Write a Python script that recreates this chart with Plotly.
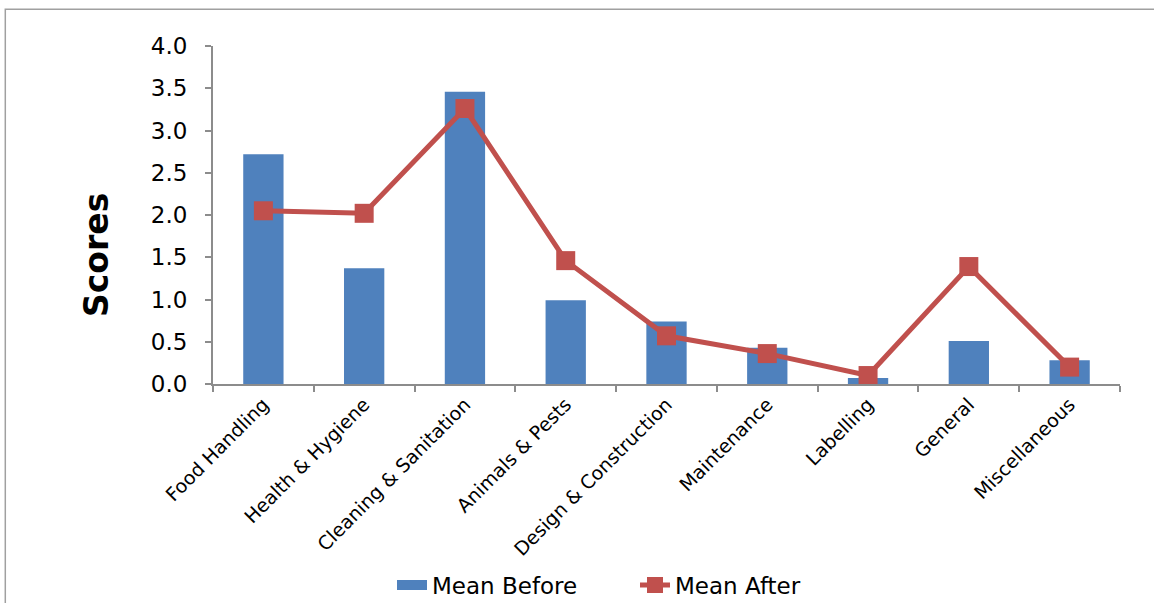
import plotly.graph_objects as go

categories = ["Food Handling", "Health & Hygiene", "Cleaning & Sanitation",
              "Animals & Pests", "Design & Construction", "Maintenance",
              "Labelling", "General", "Miscellaneous"]
mean_before = [2.72, 1.37, 3.46, 0.99, 0.74, 0.43, 0.07, 0.51, 0.28]
mean_after = [2.05, 2.02, 3.26, 1.46, 0.57, 0.36, 0.10, 1.39, 0.20]
y_ticks = [0.0, 0.5, 1.0, 1.5, 2.0, 2.5, 3.0, 3.5, 4.0]

FONT = "DejaVu Sans"
AXIS_GRAY = "#8c8c8c"
BLUE = "#4F81BD"
RED = "#C0504D"

fig = go.Figure()
fig.add_trace(go.Bar(
    x=categories, y=mean_before, name="Mean Before",
    marker=dict(color=BLUE, line=dict(width=0)),
    legendgroup="before", showlegend=False,
))
# wide swatch for the bar series in the legend
fig.add_trace(go.Scatter(
    x=[None], y=[None], name="Mean Before", mode="lines",
    line=dict(color=BLUE, width=15), legendgroup="before",
))
fig.add_trace(go.Scatter(
    x=categories, y=mean_after, name="Mean After",
    mode="lines+markers",
    line=dict(color=RED, width=5),
    marker=dict(symbol="square", size=19, color=RED),
))

fig.update_layout(
    width=1154, height=603,
    margin=dict(l=213, r=34, t=46, b=219, autoexpand=False),
    paper_bgcolor="white", plot_bgcolor="white",
    bargap=0.6,
    font=dict(family=FONT, color="black"),
    showlegend=True,
    legend=dict(orientation="h",
                xref="container", x=392 / 1154, xanchor="left",
                yref="container", y=1 - 585 / 603, yanchor="middle",
                font=dict(size=23, family=FONT), itemwidth=30,
                entrywidth=198, entrywidthmode="pixels",
                traceorder="normal"),
    shapes=[dict(type="rect", xref="paper", yref="paper",
                 x0=-0.229, x1=1.05, y0=-1.0, y1=1.109,
                 line=dict(color="#a0a0a0", width=1.5))],
    annotations=[dict(text="<b>Scores</b>", xref="paper", yref="paper",
                      x=(97 - 213) / 907, y=(384 - 255) / 338,
                      xanchor="center", yanchor="middle", textangle=-90,
                      showarrow=False, font=dict(size=33, family=FONT))],
)

fig.update_xaxes(
    type="category", range=[-0.5, 8.5], tickangle=-45, tickson="boundaries",
    ticks="outside", ticklen=6, tickcolor=AXIS_GRAY, tickwidth=1.5,
    showline=True, linecolor=AXIS_GRAY, linewidth=2,
    tickfont=dict(size=19, family=FONT), showgrid=False,
)
fig.update_yaxes(
    range=[0, 4.0], tickvals=y_ticks,
    ticktext=[f"{v:.1f}" for v in y_ticks],
    ticks="outside", ticklen=6, tickcolor=AXIS_GRAY, tickwidth=1.5,
    showline=True, linecolor=AXIS_GRAY, linewidth=2,
    showgrid=False, zeroline=False, ticklabelstandoff=13,
    tickfont=dict(size=23, family=FONT),
)

fig.write_html("out.html")
